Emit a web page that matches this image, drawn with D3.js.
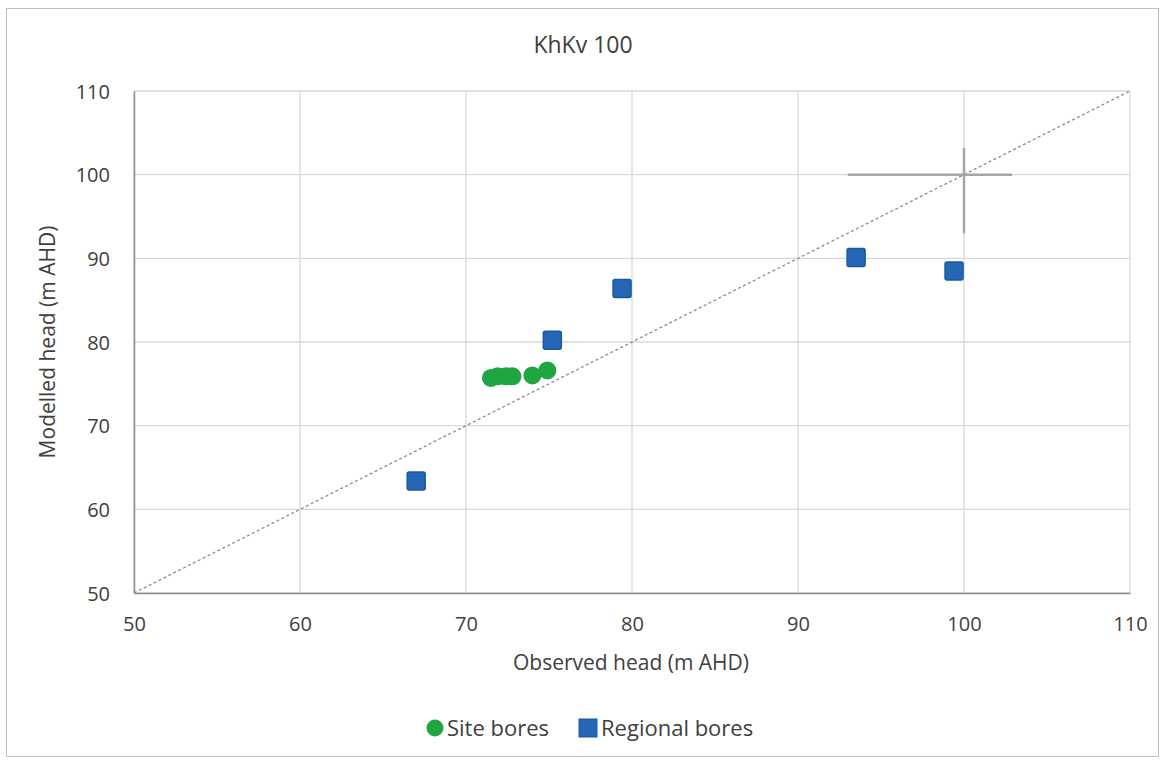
<!DOCTYPE html>
<html><head><meta charset="utf-8">
<script src="https://cdn.jsdelivr.net/npm/d3@7"></script>
<style>body{margin:0;background:#fff;}svg{display:block;font-family:"Open Sans",sans-serif;}</style>
</head><body>
<svg id="c" width="1163" height="760"></svg>
<script>
const siteX = [71.5, 71.9, 72.4, 72.8, 74.0, 74.9];
const siteY = [75.7, 75.9, 75.9, 75.9, 76.0, 76.6];
const regionalX = [67.0, 75.2, 79.4, 93.5, 99.4];
const regionalY = [63.4, 80.2, 86.4, 90.1, 88.5];
const crossCenter = [100, 100];
const crossH = [93.0, 102.9];
const crossV = [93.0, 103.2];
const lineX = [50, 110];
const ticks = [50, 60, 70, 80, 90, 100, 110];

const svg = d3.select("#c");
const L = 134, R = 1130, T = 91, B = 593;
const x = d3.scaleLinear().domain([50, 110]).range([L, R]);
const y = d3.scaleLinear().domain([50, 110]).range([B, T]);
const FONT = "Open Sans, sans-serif";

svg.append("rect").attr("x", 6.5).attr("y", 8.5).attr("width", 1152).attr("height", 748)
  .attr("fill", "#fff").attr("stroke", "#bfbfbf");

// gridlines
svg.append("g").selectAll("line").data(ticks).join("line")
  .attr("x1", d => x(d)).attr("x2", d => x(d)).attr("y1", T).attr("y2", B)
  .attr("stroke", "#d9d9d9").attr("stroke-width", 1.3);
svg.append("g").selectAll("line").data(ticks).join("line")
  .attr("y1", d => y(d)).attr("y2", d => y(d)).attr("x1", L).attr("x2", R)
  .attr("stroke", "#d9d9d9").attr("stroke-width", 1.3);

// axes
const xa = svg.append("g").attr("transform", `translate(0,${B})`)
  .call(d3.axisBottom(x).tickValues(ticks).tickSize(0).tickPadding(24));
const ya = svg.append("g").attr("transform", `translate(${L},0)`)
  .call(d3.axisLeft(y).tickValues(ticks).tickSize(0).tickPadding(24));
[xa, ya].forEach(a => {
  a.select(".domain").attr("stroke", "#8c8c8c").attr("stroke-width", 1.5);
  a.selectAll("text").attr("font-size", 20).attr("fill", "#404040").attr("font-family", FONT);
});
ya.selectAll("text").attr("dy", "0.35em");
xa.selectAll("text").attr("dy", "0.71em");

// 1:1 line
svg.append("line").attr("x1", x(lineX[0])).attr("y1", y(lineX[0]))
  .attr("x2", x(lineX[1])).attr("y2", y(lineX[1]))
  .attr("stroke", "#8c8c8c").attr("stroke-width", 1.3).attr("stroke-dasharray", "3,2.5");

// cross
svg.append("line").attr("x1", x(crossH[0])).attr("x2", x(crossH[1]))
  .attr("y1", y(crossCenter[1])).attr("y2", y(crossCenter[1]))
  .attr("stroke", "#a6a6a6").attr("stroke-width", 2.5);
svg.append("line").attr("y1", y(crossV[0])).attr("y2", y(crossV[1]))
  .attr("x1", x(crossCenter[0])).attr("x2", x(crossCenter[0]))
  .attr("stroke", "#a6a6a6").attr("stroke-width", 2.5);

// regional squares
const s = 18;
svg.append("g").selectAll("rect").data(regionalX).join("rect")
  .attr("x", (d, i) => x(d) - s / 2).attr("y", (d, i) => y(regionalY[i]) - s / 2)
  .attr("width", s).attr("height", s).attr("rx", 2)
  .attr("fill", "#2566b5").attr("stroke", "#1a58a6").attr("stroke-width", 1.5);

// site circles
svg.append("g").selectAll("circle").data(siteX).join("circle")
  .attr("cx", d => x(d)).attr("cy", (d, i) => y(siteY[i])).attr("r", 9)
  .attr("fill", "#1fa643");

// titles
svg.append("text").attr("x", 583).attr("y", 53).attr("text-anchor", "middle")
  .attr("font-size", 23).attr("fill", "#404040").text("KhKv 100");
svg.append("text").attr("x", 631).attr("y", 670).attr("text-anchor", "middle")
  .attr("font-size", 21).attr("fill", "#404040").text("Observed head (m AHD)");
svg.append("text").attr("transform", `translate(55,${(T + B) / 2}) rotate(-90)`)
  .attr("text-anchor", "middle").attr("font-size", 21).attr("fill", "#404040")
  .text("Modelled head (m AHD)");

// legend
const lg = svg.append("g").attr("font-size", 22).attr("fill", "#404040");
lg.append("circle").attr("cx", 435).attr("cy", 728).attr("r", 8.5).attr("fill", "#1fa643");
lg.append("text").attr("x", 447).attr("y", 736).text("Site bores");
lg.append("rect").attr("x", 579).attr("y", 719).attr("width", 18).attr("height", 18)
  .attr("fill", "#2566b5").attr("stroke", "#1a58a6");
lg.append("text").attr("x", 601).attr("y", 736).text("Regional bores");
</script>
</body></html>
